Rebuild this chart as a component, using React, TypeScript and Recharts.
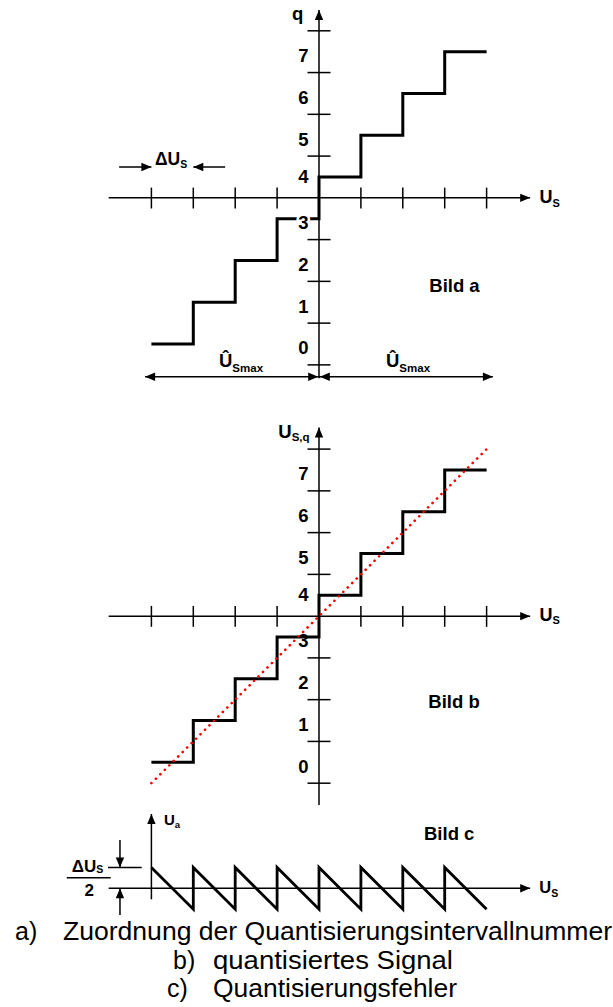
import React from 'react';
import { ComposedChart, Line, Scatter, XAxis, YAxis, ReferenceLine } from 'recharts';

// ---------- data (U_S in multiples of ΔU_S) ----------
// edges of the quantisation intervals and the interval number reached at each edge
const stepX = [-4, -3, -2, -1, 0, 1, 2, 3, 4];
const stepQ = [0, 1, 2, 3, 4, 5, 6, 7, 7];
// ideal, unquantised characteristic (Bild b)
const idealX = [-4, 4];
const idealQ = [-0.5, 7.5];
// quantisation error U_a in units of ΔU_S (Bild c)
const errorX = [-4, -3, -3, -2, -2, -1, -1, 0, 0, 1, 1, 2, 2, 3, 3, 4];
const errorU = [0.5, -0.5, 0.5, -0.5, 0.5, -0.5, 0.5, -0.5, 0.5, -0.5, 0.5, -0.5, 0.5, -0.5, 0.5, -0.5];
// tick positions and labels
const usTicks = [-4, -3, -2, -1, 1, 2, 3, 4];
const qTicks = [-0.5, 0.5, 1.5, 2.5, 4.5, 5.5, 6.5, 7.5];
const qLabels = [0, 1, 2, 3, 4, 5, 6, 7];

const stepData = stepX.map((x, i) => ({ x, y: stepQ[i] }));
const idealData = idealX.map((x, i) => ({ x, y: idealQ[i] }));
const errorData = errorX.map((x, i) => ({ x, y: errorU[i] }));

// ---------- layout ----------
const W = 613;
const PX_X = 41.9; // pixels per ΔU_S
const ORIGIN_X = 319; // page x of U_S = 0
const PX_Y = 41.76; // pixels per q step
const X_DOMAIN: [number, number] = [-ORIGIN_X / PX_X, (W - ORIGIN_X) / PX_X];
const AXIS_START = -5.02;
const AXIS_TIP = 5.04;
const FONT = "Arial, 'Liberation Sans', Helvetica, sans-serif";

type Panel = { top: number; height: number; originY: number };
const PANEL_A: Panel = { top: 0, height: 392, originY: 344 };
const PANEL_B: Panel = { top: 398, height: 412, originY: 762.3 };
const PANEL_C: Panel = { top: 806, height: 120, originY: 888.3 };

const yDomain = (p: Panel): [number, number] => [
  (p.originY - p.top - p.height) / PX_Y,
  (p.originY - p.top) / PX_Y,
];

// ---------- shapes ----------
function ArrowHead(props: any) {
  const { cx, cy, payload } = props;
  if (cx == null || cy == null) return null;
  const L = 10;
  const H = 4.2;
  let pts: string;
  switch (payload.dir) {
    case 'up':
      pts = `${cx},${cy} ${cx - H},${cy + L} ${cx + H},${cy + L}`;
      break;
    case 'down':
      pts = `${cx},${cy} ${cx - H},${cy - L} ${cx + H},${cy - L}`;
      break;
    case 'left':
      pts = `${cx},${cy} ${cx + L},${cy - H} ${cx + L},${cy + H}`;
      break;
    default:
      pts = `${cx},${cy} ${cx - L},${cy - H} ${cx - L},${cy + H}`;
  }
  return <polygon points={pts} fill="#000" />;
}

function TextMark(props: any) {
  const { cx, cy, payload } = props;
  if (cx == null || cy == null) return null;
  const { text, sub, fs = 18, subFs = 11, subDy = 3.5, anchor = 'start', halo = false, dy = 0 } = payload;
  return (
    <text
      x={cx}
      y={cy + dy}
      fontFamily={FONT}
      fontWeight="bold"
      fontSize={fs}
      textAnchor={anchor}
      fill="#000"
      stroke={halo ? '#fff' : 'none'}
      strokeWidth={halo ? 5 : 0}
      strokeLinejoin="round"
      style={{ paintOrder: 'stroke' }}
    >
      {text}
      {sub ? (
        <tspan fontSize={subFs} dy={subDy}>
          {sub}
        </tspan>
      ) : null}
    </text>
  );
}

const seg = (key: string, x1: number, y1: number, x2: number, y2: number, w = 1.5) => (
  <ReferenceLine
    key={key}
    segment={[
      { x: x1, y: y1 },
      { x: x2, y: y2 },
    ]}
    stroke="#000"
    strokeWidth={w}
    ifOverflow="visible"
  />
);

// axis cross of Bild a / Bild b: U_S axis at q = 3.5, q axis at U_S = 0
const axisCross = (prefix: string, yBottom: number, yTip: number) => [
  seg(prefix + '-xaxis', AXIS_START, 3.5, AXIS_TIP, 3.5),
  seg(prefix + '-yaxis', 0, yBottom, 0, yTip),
  ...usTicks.map((t) => seg(`${prefix}-xt${t}`, t, 3.5 - 0.255, t, 3.5 + 0.245)),
  ...qTicks.map((t) => seg(`${prefix}-yt${t}`, -0.275, t, 0.275, t)),
];

const qTickLabels = (halo: boolean) =>
  qLabels.map((q) => ({ x: -0.25, y: q, text: String(q), fs: 18.5, anchor: 'end', dy: q === 4 ? 5.8 : 10.3, halo }));

// ---------- annotations ----------
const arrowsA = [
  { x: AXIS_TIP, y: 3.5, dir: 'right' },
  { x: 0, y: 8.0, dir: 'up' },
  { x: -4, y: 4.238, dir: 'right' },
  { x: -3, y: 4.238, dir: 'left' },
  { x: -4.15, y: -0.783, dir: 'left' },
  { x: -0.02, y: -0.783, dir: 'right' },
  { x: 0.02, y: -0.783, dir: 'left' },
  { x: 4.15, y: -0.783, dir: 'right' },
];
const textsA = [
  ...qTickLabels(true),
  { x: -0.375, y: 7.77, text: 'q', anchor: 'end', fs: 18.5 },
  { x: 5.26, y: 3.369, text: 'U', sub: 'S', fs: 18, subFs: 11, subDy: 3.5 },
  { x: -3.914, y: 4.286, text: 'ΔU', sub: 'S', fs: 17.5, subFs: 10.5, subDy: 3.3 },
  { x: 2.632, y: 1.252, text: 'Bild a', fs: 18.5 },
  { x: -2.387, y: -0.544, text: 'Û', sub: 'Smax', fs: 18.5, subFs: 11.5, subDy: 5 },
  { x: 1.599, y: -0.544, text: 'Û', sub: 'Smax', fs: 18.5, subFs: 11.5, subDy: 5 },
];

const arrowsB = [
  { x: AXIS_TIP, y: 3.5, dir: 'right' },
  { x: 0, y: 8.02, dir: 'up' },
];
const textsB = [
  ...qTickLabels(false),
  { x: -0.971, y: 7.759, text: 'U', sub: 'S,q', fs: 18.5, subFs: 11.5, subDy: 2.7 },
  { x: 5.26, y: 3.384, text: 'U', sub: 'S', fs: 18, subFs: 11, subDy: 3.5 },
  { x: 2.609, y: 1.3, text: 'Bild b', fs: 18.5 },
];

const arrowsC = [
  { x: AXIS_TIP, y: 0, dir: 'right' },
  { x: -4, y: 1.78, dir: 'up' },
  { x: -4.75, y: 0.5, dir: 'down' },
  { x: -4.75, y: 0, dir: 'up' },
];
const textsC = [
  { x: -5.902, y: 0.397, text: 'ΔU', sub: 'S', fs: 17, subFs: 10.5, subDy: 1 },
  { x: -5.484, y: -0.184, text: '2', anchor: 'middle', fs: 17 },
  { x: -3.699, y: 1.516, text: 'U', sub: 'a', fs: 15, subFs: 9.5, subDy: 3.3 },
  { x: 2.506, y: 1.157, text: 'Bild c', fs: 18.5 },
  { x: 5.258, y: -0.12, text: 'U', sub: 'S', fs: 16.5, subFs: 10.5, subDy: 4 },
];

function Frame({ panel, children }: { panel: Panel; children: React.ReactNode }) {
  return (
    <div style={{ position: 'absolute', left: 0, top: panel.top }}>
      <ComposedChart width={W} height={panel.height} margin={{ top: 0, right: 0, bottom: 0, left: 0 }}>
        <XAxis type="number" dataKey="x" domain={X_DOMAIN} hide allowDataOverflow />
        <YAxis type="number" dataKey="y" domain={yDomain(panel)} hide allowDataOverflow />
        {children}
      </ComposedChart>
    </div>
  );
}

export default function App() {
  return (
    <div style={{ position: 'absolute', left: 0, top: 0, width: W, height: 1007, background: '#fff' }}>
      {/* Bild a: Zuordnung der Quantisierungsintervallnummer */}
      <Frame panel={PANEL_A}>
        {axisCross('a', -0.82, 8.0)}
        {seg('a-du-l', -4.77, 4.238, -4, 4.238)}
        {seg('a-du-r', -2.24, 4.238, -3, 4.238)}
        {seg('a-umax', -4.15, -0.783, 4.15, -0.783)}
        <Line
          data={stepData}
          dataKey="y"
          type="stepAfter"
          stroke="#000"
          strokeWidth={3}
          dot={false}
          activeDot={false}
          isAnimationActive={false}
        />
        <Scatter data={arrowsA} shape={ArrowHead} isAnimationActive={false} />
        <Scatter data={textsA} shape={TextMark} isAnimationActive={false} />
      </Frame>

      {/* Bild b: quantisiertes Signal */}
      <Frame panel={PANEL_B}>
        {axisCross('b', -1.02, 8.02)}
        <Scatter data={textsB} shape={TextMark} isAnimationActive={false} />
        <Line
          data={stepData}
          dataKey="y"
          type="stepAfter"
          stroke="#000"
          strokeWidth={3}
          dot={false}
          activeDot={false}
          isAnimationActive={false}
        />
        <Line
          data={idealData}
          dataKey="y"
          type="linear"
          stroke="#ff0000"
          strokeWidth={2.6}
          strokeDasharray="0.1 6.2"
          strokeLinecap="round"
          dot={false}
          activeDot={false}
          isAnimationActive={false}
        />
        <Scatter data={arrowsB} shape={ArrowHead} isAnimationActive={false} />
      </Frame>

      {/* Bild c: Quantisierungsfehler */}
      <Frame panel={PANEL_C}>
        {seg('c-xaxis', AXIS_START, 0, AXIS_TIP, 0)}
        {seg('c-yaxis', -4, -0.263, -4, 1.78)}
        {seg('c-peak', -5.036, 0.5, -4.232, 0.5)}
        {seg('c-down', -4.75, 1.157, -4.75, 0.5)}
        {seg('c-up', -4.75, -0.638, -4.75, 0)}
        {seg('c-frac', -6.02, 0.254, -4.97, 0.254)}
        <Line
          data={errorData}
          dataKey="y"
          type="linear"
          stroke="#000"
          strokeWidth={2.8}
          dot={false}
          activeDot={false}
          isAnimationActive={false}
        />
        <Scatter data={arrowsC} shape={ArrowHead} isAnimationActive={false} />
        <Scatter data={textsC} shape={TextMark} isAnimationActive={false} />
      </Frame>

      {/* captions */}
      <svg width={W} height={92} style={{ position: 'absolute', left: 0, top: 915 }}>
        <g fontFamily={FONT} fontSize={25} fill="#000">
          <text x={15} y={25}>a)</text>
          <text x={63} y={25} textLength={549} lengthAdjust="spacingAndGlyphs">
            Zuordnung der Quantisierungsintervallnummer
          </text>
          <text x={173} y={53.5}>b)</text>
          <text x={213} y={53.5} textLength={240} lengthAdjust="spacingAndGlyphs">
            quantisiertes Signal
          </text>
          <text x={167} y={82}>c)</text>
          <text x={213} y={82} textLength={244} lengthAdjust="spacingAndGlyphs">
            Quantisierungsfehler
          </text>
        </g>
      </svg>
    </div>
  );
}
